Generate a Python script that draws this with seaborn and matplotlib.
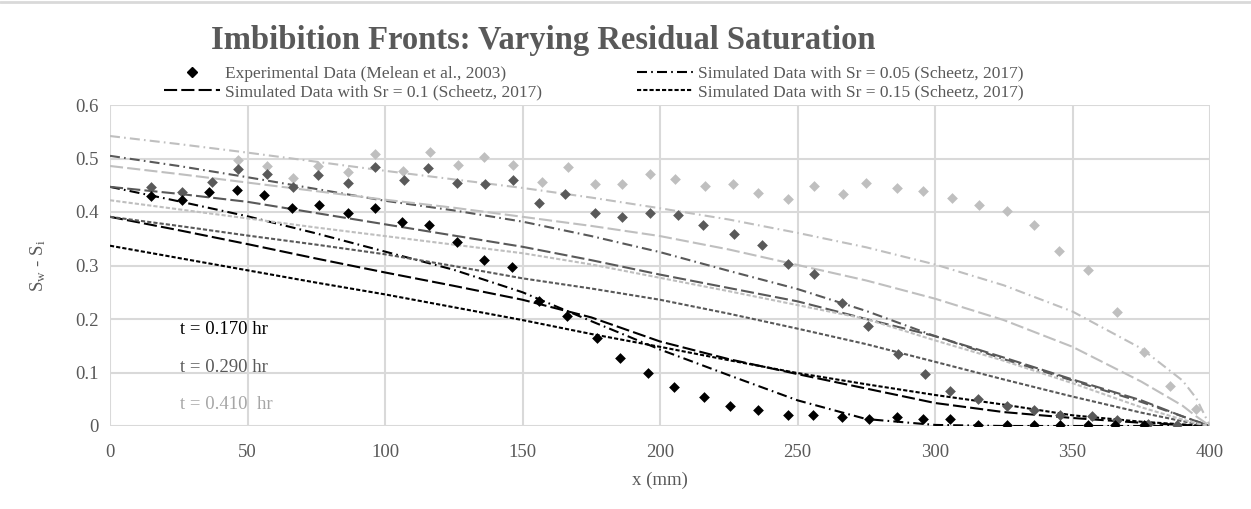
import numpy as np
import pandas as pd
import matplotlib
matplotlib.use("Agg")
import matplotlib.pyplot as plt
from matplotlib.lines import Line2D
import seaborn as sns

# ---------------- data ----------------
x_grid = [0, 25, 50, 75, 100, 125, 150, 175, 200, 225, 250, 275, 300, 325, 350, 375, 390, 395, 400]

# t = 0.170 hr (black)
sim_170_sr005 = [0.447, 0.420, 0.392, 0.360, 0.326, 0.292, 0.250, 0.196, 0.143, 0.095, 0.048, 0.013, 0.002, 0.0, 0.0, 0.0, 0.0, 0.0, 0.0]
sim_170_sr010 = [0.391, 0.366, 0.340, 0.313, 0.287, 0.262, 0.236, 0.203, 0.158, 0.125, 0.097, 0.070, 0.043, 0.026, 0.015, 0.006, 0.002, 0.001, 0.0]
sim_170_sr015 = [0.337, 0.314, 0.291, 0.268, 0.246, 0.222, 0.198, 0.172, 0.148, 0.123, 0.099, 0.078, 0.058, 0.040, 0.020, 0.008, 0.003, 0.001, 0.0]
# t = 0.290 hr (dark gray)
sim_290_sr005 = [0.505, 0.486, 0.465, 0.443, 0.421, 0.403, 0.382, 0.355, 0.325, 0.290, 0.256, 0.215, 0.168, 0.125, 0.085, 0.045, 0.018, 0.009, 0.0]
sim_290_sr010 = [0.447, 0.434, 0.419, 0.398, 0.377, 0.356, 0.335, 0.310, 0.283, 0.258, 0.233, 0.200, 0.168, 0.128, 0.087, 0.048, 0.018, 0.009, 0.0]
sim_290_sr015 = [0.391, 0.374, 0.356, 0.339, 0.321, 0.299, 0.276, 0.257, 0.236, 0.210, 0.182, 0.153, 0.120, 0.087, 0.055, 0.025, 0.009, 0.004, 0.0]
# t = 0.410 hr (light gray)
sim_410_sr005 = [0.542, 0.527, 0.511, 0.494, 0.477, 0.461, 0.445, 0.427, 0.407, 0.386, 0.361, 0.334, 0.302, 0.263, 0.214, 0.145, 0.085, 0.052, 0.0]
sim_410_sr010 = [0.486, 0.471, 0.455, 0.439, 0.423, 0.408, 0.391, 0.374, 0.355, 0.330, 0.301, 0.272, 0.238, 0.198, 0.148, 0.083, 0.038, 0.018, 0.0]
sim_410_sr015 = [0.422, 0.405, 0.388, 0.371, 0.355, 0.339, 0.323, 0.302, 0.277, 0.252, 0.226, 0.200, 0.160, 0.122, 0.080, 0.035, 0.012, 0.005, 0.0]

# experimental data (Melean et al., 2003)
exp_170_x = [15, 26, 36, 46, 56, 66, 76, 86.5, 96.5, 106, 116, 126, 136, 146, 156, 166, 177, 185.5, 195.5,
             205, 216, 225.5, 235.5, 246.5, 255.5, 266, 276, 286, 295.5, 305.5, 315.5, 326, 336, 345.5, 355.5, 365.5, 376]
exp_170_y = [0.429, 0.422, 0.437, 0.442, 0.432, 0.408, 0.413, 0.398, 0.407, 0.382, 0.376, 0.343, 0.310, 0.298,
             0.234, 0.206, 0.164, 0.127, 0.100, 0.072, 0.055, 0.038, 0.030, 0.021, 0.021, 0.016, 0.013, 0.016,
             0.013, 0.014, 0.002, 0.001, 0.001, 0.001, 0.001, 0.001, 0.001]
exp_290_x = [15, 26, 37, 46.5, 57, 66.5, 75.5, 86.5, 96.5, 107, 115.5, 126, 136.5, 146.5, 156, 165.5, 176.5, 186, 196.5,
             206.5, 215.5, 227, 237, 246.5, 256, 266, 275.5, 286.5, 296.5, 305.5, 315.5, 326, 336, 345.5, 357, 366, 377.5, 388]
exp_290_y = [0.446, 0.438, 0.457, 0.480, 0.471, 0.446, 0.469, 0.455, 0.484, 0.459, 0.483, 0.455, 0.452, 0.459,
             0.417, 0.434, 0.399, 0.390, 0.399, 0.394, 0.376, 0.359, 0.339, 0.302, 0.284, 0.230, 0.187, 0.135,
             0.097, 0.065, 0.050, 0.037, 0.030, 0.021, 0.018, 0.011, 0.004, 0.001]
exp_410_x = [46.5, 57, 66.5, 75.5, 86.5, 96.5, 106.5, 116.5, 126.5, 136, 146.5, 157, 166.5, 176.5, 186, 196.5, 205.5,
             216.5, 226.5, 235.5, 246.5, 256, 266.5, 275, 286, 295.5, 306, 316, 326, 336, 345, 355.5, 366, 376, 385.5, 395]
exp_410_y = [0.497, 0.486, 0.463, 0.486, 0.475, 0.508, 0.477, 0.513, 0.488, 0.502, 0.488, 0.457, 0.484, 0.452,
             0.452, 0.471, 0.461, 0.449, 0.452, 0.436, 0.424, 0.448, 0.434, 0.455, 0.445, 0.440, 0.426, 0.413,
             0.401, 0.376, 0.328, 0.291, 0.213, 0.139, 0.075, 0.032]

times = ["0.170", "0.290", "0.410"]
srs = ["0.05", "0.1", "0.15"]
time_labels = ["t = 0.170 hr", "t = 0.290 hr", "t = 0.410  hr"]
x_ticks = [0, 50, 100, 150, 200, 250, 300, 350, 400]
y_ticks = [0, 0.1, 0.2, 0.3, 0.4, 0.5, 0.6]
y_ticklabels = ["0", "0.1", "0.2", "0.3", "0.4", "0.5", "0.6"]

# ---------------- styling ----------------
BLACK, DARK, LIGHT = "#000000", "#595959", "#bfbfbf"
TXT = "#595959"
GRID = "#d9d9d9"
palette = {"0.170": BLACK, "0.290": DARK, "0.410": LIGHT}
dash_map = {"0.05": (4.8, 2.0, 0.8, 2.0), "0.1": (6.3, 2.0), "0.15": (2.0, 1.0)}
label_colors = [BLACK, DARK, "#a6a6a6"]

sns.set_theme(style="white")
plt.rcParams["font.family"] = ["Liberation Serif", "DejaVu Serif"]
plt.rcParams["mathtext.fontset"] = "stix"

# long-form tables
sim_table = {
    ("0.170", "0.05"): sim_170_sr005, ("0.170", "0.1"): sim_170_sr010, ("0.170", "0.15"): sim_170_sr015,
    ("0.290", "0.05"): sim_290_sr005, ("0.290", "0.1"): sim_290_sr010, ("0.290", "0.15"): sim_290_sr015,
    ("0.410", "0.05"): sim_410_sr005, ("0.410", "0.1"): sim_410_sr010, ("0.410", "0.15"): sim_410_sr015,
}
rows = []
for (t, sr), ys in sim_table.items():
    for xv, yv in zip(x_grid, ys):
        rows.append({"x": xv, "y": yv, "t": t, "Sr": sr})
sim_df = pd.DataFrame(rows)

exp_rows = []
for t, xs, ys in [("0.410", exp_410_x, exp_410_y), ("0.290", exp_290_x, exp_290_y), ("0.170", exp_170_x, exp_170_y)]:
    for xv, yv in zip(xs, ys):
        exp_rows.append({"x": xv, "y": yv, "t": t})
exp_df = pd.DataFrame(exp_rows)

fig = plt.figure(figsize=(12.51, 5.09), dpi=100)
ax = fig.add_axes([110 / 1251, 1 - 426 / 509, 1100 / 1251, 321 / 509])

sns.lineplot(data=sim_df, x="x", y="y", hue="t", style="Sr", palette=palette, dashes=dash_map,
             estimator=None, sort=False, linewidth=1.5, legend=False, ax=ax, zorder=2)
for t in ["0.410", "0.290", "0.170"]:
    sns.scatterplot(data=exp_df[exp_df["t"] == t], x="x", y="y", color=palette[t], marker="D",
                    s=30, linewidth=0, legend=False, ax=ax, zorder=3)

ax.set_xlim(0, 400)
ax.set_ylim(0, 0.6)
ax.set_xticks(x_ticks)
ax.set_yticks(y_ticks)
ax.set_yticklabels(y_ticklabels)
ax.grid(True, color=GRID, linewidth=1.5)
ax.set_axisbelow(True)
for s in ax.spines.values():
    s.set_visible(False)
ax.tick_params(axis="both", length=0, labelsize=13.5, labelcolor=TXT)
ax.tick_params(axis="x", pad=13)
ax.tick_params(axis="y", pad=8)
ax.set_xlabel("x (mm)", fontsize=13.5, color=TXT, labelpad=8)
ax.set_ylabel(r"S$_\mathregular{w}$ - S$_\mathregular{i}$", fontsize=13.5, color=TXT, labelpad=20)

# time annotations
for lab, yv, c in zip(time_labels, [0.18, 0.11, 0.04], label_colors):
    ax.text(25.5, yv, lab, color=c, fontsize=13.5, va="center", ha="left")

# title
fig.text(543 / 1251, 1 - 40 / 509, "Imbibition Fronts: Varying Residual Saturation",
         ha="center", va="center", fontsize=23.5, fontweight="bold", color=TXT)

# legend
handles = [
    Line2D([], [], color=BLACK, marker="D", markersize=5, linestyle="none"),
    Line2D([], [], color=BLACK, lw=1.5, dashes=dash_map["0.1"]),
    Line2D([], [], color=BLACK, lw=1.5, dashes=dash_map["0.05"]),
    Line2D([], [], color=BLACK, lw=1.5, dashes=dash_map["0.15"]),
]
labels = [
    "Experimental Data (Melean et al., 2003)",
    "Simulated Data with Sr = 0.1 (Scheetz, 2017)",
    "Simulated Data with Sr = 0.05 (Scheetz, 2017)",
    "Simulated Data with Sr = 0.15 (Scheetz, 2017)",
]
leg = fig.legend(handles, labels, ncol=2, loc="center", bbox_to_anchor=(594 / 1251, 1 - 83 / 509),
                 frameon=False, fontsize=12.5, handlelength=3.2, handletextpad=0.3,
                 columnspacing=5.5, labelspacing=0.15, borderpad=0)
for txt in leg.get_texts():
    txt.set_color(TXT)

# top frame line of chart area
fig.add_artist(Line2D([0, 1], [1 - 2 / 509, 1 - 2 / 509], color=GRID, lw=2, transform=fig.transFigure))

fig.savefig("out.png", dpi=100)
